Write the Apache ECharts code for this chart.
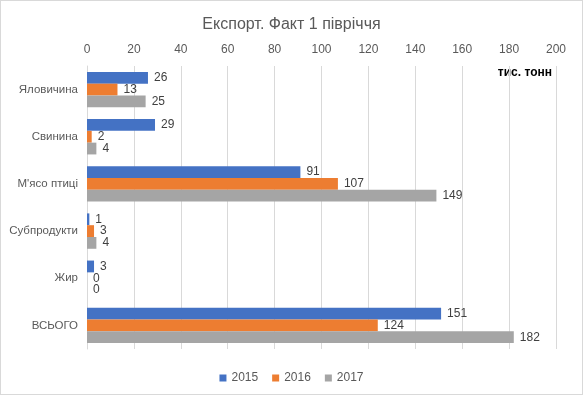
<!DOCTYPE html>
<html><head><meta charset="utf-8">
<script src="https://cdn.jsdelivr.net/npm/echarts@6/dist/echarts.min.js"></script>
<style>html,body{margin:0;padding:0;background:#fff}#c{width:581px;height:393px;border:1px solid #d9d9d9}</style>
</head><body><div id="c"></div>
<script>
const categories = ['Яловичина','Свинина',"М'ясо птиці",'Субпродукти','Жир','ВСЬОГО'];
const s2015 = [26,29,91,1,3,151];
const s2016 = [13,2,107,3,0,124];
const s2017 = [25,4,149,4,0,182];
const seriesNames = ['2015','2016','2017'];
const colors = ['#4472C4','#ED7D31','#A5A5A5'];
const font = 'Liberation Sans, Arial, sans-serif';
const chart = echarts.init(document.getElementById('c'));
const mk = (name, data, color) => ({
  name, type:'bar', data, barGap:'0%', barCategoryGap:'25%',
  itemStyle:{color},
  label:{show:true, position:'right', distance:6, color:'#404040', fontSize:12, fontFamily:font}
});
chart.setOption({
  animation:false,
  color: colors,
  title:{text:'Експорт. Факт 1 півріччя', left:'center', top:11,
    textStyle:{fontSize:16, fontWeight:'normal', color:'#595959', fontFamily:font}},
  legend:{bottom:5, left:'center', icon:'rect', itemWidth:7, itemHeight:7, itemGap:14,
    textStyle:{color:'#595959', fontSize:12, fontFamily:font}, data:seriesNames},
  grid:{left:86, right:26, top:65, bottom:45, containLabel:false},
  xAxis:{type:'value', position:'top', min:0, max:200, interval:20,
    axisLine:{show:false}, axisTick:{show:false},
    axisLabel:{color:'#595959', fontSize:12, fontFamily:font, margin:10},
    splitLine:{lineStyle:{color:'#d9d9d9'}}},
  yAxis:{type:'category', data:categories, inverse:true,
    axisLine:{show:true, lineStyle:{color:'#d9d9d9'}}, axisTick:{show:false},
    axisLabel:{color:'#595959', fontSize:11.5, fontFamily:font, margin:9}},
  graphic:[{type:'text', right:30, top:66, style:{text:'тис. тонн', font:'bold 12px '+font, fill:'#000'}}],
  series:[mk(seriesNames[0], s2015, colors[0]), mk(seriesNames[1], s2016, colors[1]), mk(seriesNames[2], s2017, colors[2])]
});
</script></body></html>
